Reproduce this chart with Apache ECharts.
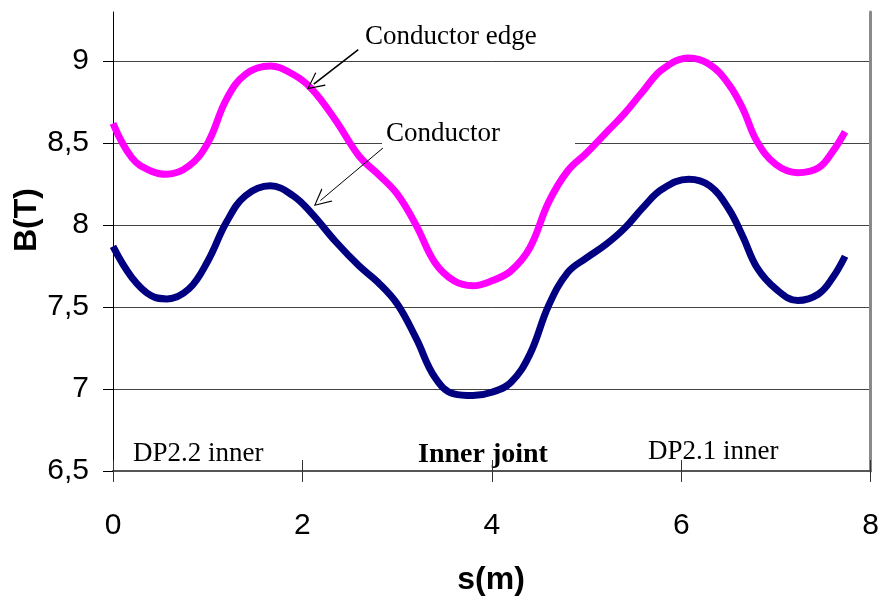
<!DOCTYPE html>
<html><head><meta charset="utf-8">
<script src="https://cdn.jsdelivr.net/npm/echarts@6/dist/echarts.min.js"></script>
<style>html,body{margin:0;padding:0;background:#fff}#c{width:882px;height:598px}</style>
</head><body><div id="c"></div>
<script>
// position along conductor s (m)
const sPos  = [0, 0.2, 0.4, 0.57, 0.8, 1.0, 1.2, 1.4, 1.66, 1.9, 2.1, 2.35, 2.6, 2.8, 3.0, 3.2, 3.4, 3.6, 3.8, 4.0, 4.2, 4.4, 4.6, 4.8, 5.0, 5.2, 5.4, 5.6, 5.8, 6.08, 6.3, 6.5, 6.65, 6.8, 7.0, 7.23, 7.45, 7.6, 7.73];
// B (T) at the conductor edge
const edgeB = [8.62, 8.41, 8.33, 8.31, 8.36, 8.50, 8.77, 8.92, 8.97, 8.92, 8.83, 8.64, 8.42, 8.31, 8.19, 8.00, 7.77, 7.66, 7.63, 7.66, 7.72, 7.86, 8.14, 8.33, 8.44, 8.56, 8.68, 8.82, 8.95, 9.02, 8.98, 8.86, 8.71, 8.51, 8.37, 8.32, 8.35, 8.45, 8.57];
// B (T) in the conductor
const condB = [7.87, 7.68, 7.57, 7.55, 7.61, 7.78, 8.02, 8.18, 8.24, 8.18, 8.07, 7.90, 7.75, 7.65, 7.52, 7.31, 7.07, 6.97, 6.96, 6.98, 7.04, 7.21, 7.51, 7.71, 7.80, 7.88, 7.98, 8.11, 8.22, 8.28, 8.24, 8.10, 7.93, 7.74, 7.61, 7.54, 7.58, 7.68, 7.81];
const yTicks = [6.5, 7, 7.5, 8, 8.5, 9];
const xTicks = [0, 2, 4, 6, 8];
// arrow annotations [from, to] in data coordinates
const edgeArrow = [[2.59, 9.07], [2.12, 8.86]];
const condArrow = [[2.85, 8.47], [2.19, 8.15]];

const chevron = 'path://M50,0 L100,100 L92,100 L50,14 L8,100 L0,100 Z';
const sans = '"Liberation Sans", Arial, sans-serif';
const serif = '"Liberation Serif", "Times New Roman", serif';

const chart = echarts.init(document.getElementById('c'), null, {renderer: 'canvas'});
const option = {
  animation: false,
  backgroundColor: '#fff',
  grid: {left: 113, right: 11, top: 12, bottom: 127, containLabel: false},
  xAxis: [{
    type: 'value', min: 0, max: 8, interval: 2,
    axisLine: {show: true, onZero: false, lineStyle: {color: '#555', width: 2}},
    axisTick: {show: true, inside: false, length: 11, customValues: xTicks, lineStyle: {color: '#333', width: 1}},
    axisLabel: {margin: 40, fontSize: 30, color: '#000', fontFamily: sans, customValues: xTicks,
      formatter: v => String(v)},
    splitLine: {show: false}
  }, {
    type: 'value', min: 0, max: 8, interval: 2, position: 'bottom',
    axisLine: {show: false, onZero: false},
    axisTick: {show: true, inside: true, length: 11, customValues: xTicks, lineStyle: {color: '#333', width: 1}},
    axisLabel: {show: false},
    splitLine: {show: false}
  }],
  yAxis: [{
    type: 'value', min: 6.5, max: 9.3, interval: 0.5, position: 'left',
    axisLine: {show: true, onZero: false, lineStyle: {color: '#000', width: 1}},
    axisTick: {show: true, inside: false, length: 10, customValues: yTicks, lineStyle: {color: '#000', width: 1}},
    axisLabel: {margin: 24, fontSize: 30, color: '#000', fontFamily: sans, customValues: yTicks,
      formatter: v => String(v).replace('.', ',')},
    splitLine: {show: true, showMinLine: false, lineStyle: {color: '#444', width: 1}}
  }, {
    type: 'value', min: 6.5, max: 9.3, position: 'right',
    axisLine: {show: true, onZero: false, lineStyle: {color: '#8a8a8a', width: 3}},
    axisTick: {show: false}, axisLabel: {show: false}, splitLine: {show: false}
  }],
  series: [{
    name: 'Conductor edge', type: 'line', smooth: 0.4, showSymbol: false,
    data: sPos.map((s, i) => [s, edgeB[i]]),
    lineStyle: {color: '#ff00ff', width: 7, cap: 'butt'}, itemStyle: {color: '#ff00ff'}, z: 3,
    markLine: {
      silent: true, animation: false, symbol: ['none', chevron], symbolSize: [17, 17],
      label: {show: false}, lineStyle: {color: '#000', width: 1.6, type: 'solid'},
      data: [[{coord: edgeArrow[0]}, {coord: edgeArrow[1]}]]
    }
  }, {
    name: 'Conductor', type: 'line', smooth: 0.4, showSymbol: false,
    data: sPos.map((s, i) => [s, condB[i]]),
    lineStyle: {color: '#000080', width: 7, cap: 'butt'}, itemStyle: {color: '#000080'}, z: 3,
    markLine: {
      silent: true, animation: false, symbol: ['none', chevron], symbolSize: [17, 17],
      label: {show: false}, lineStyle: {color: '#000', width: 1, type: 'solid'},
      data: [[{coord: condArrow[0]}, {coord: condArrow[1]}]]
    }
  }],
  graphic: [
    {type: 'rect', z: 1, shape: {x: 382, y: 119, width: 193, height: 30}, style: {fill: '#fff'}},
    {type: 'text', z: 5, x: 365, y: 37, style: {text: 'Conductor edge', font: '27px ' + serif, fill: '#000', align: 'left', verticalAlign: 'middle'}},
    {type: 'text', z: 5, x: 386, y: 134, style: {text: 'Conductor', font: '27px ' + serif, fill: '#000', align: 'left', verticalAlign: 'middle'}},
    {type: 'text', z: 5, x: 133, y: 454, style: {text: 'DP2.2 inner', font: '27px ' + serif, fill: '#000', align: 'left', verticalAlign: 'middle'}},
    {type: 'text', z: 0, x: 418, y: 455, style: {text: 'Inner joint', font: 'bold 28px ' + serif, fill: '#000', align: 'left', verticalAlign: 'middle'}},
    {type: 'text', z: 5, x: 648, y: 452, style: {text: 'DP2.1 inner', font: '27px ' + serif, fill: '#000', align: 'left', verticalAlign: 'middle'}},
    {type: 'text', z: 5, x: 27, y: 220, rotation: Math.PI / 2, style: {text: 'B(T)', font: 'bold 32px ' + sans, fill: '#000', align: 'center', verticalAlign: 'middle'}},
    {type: 'text', z: 5, x: 491, y: 580, style: {text: 's(m)', font: 'bold 32px ' + sans, fill: '#000', align: 'center', verticalAlign: 'middle'}}
  ]
};
chart.setOption(option);
</script>
</body></html>
